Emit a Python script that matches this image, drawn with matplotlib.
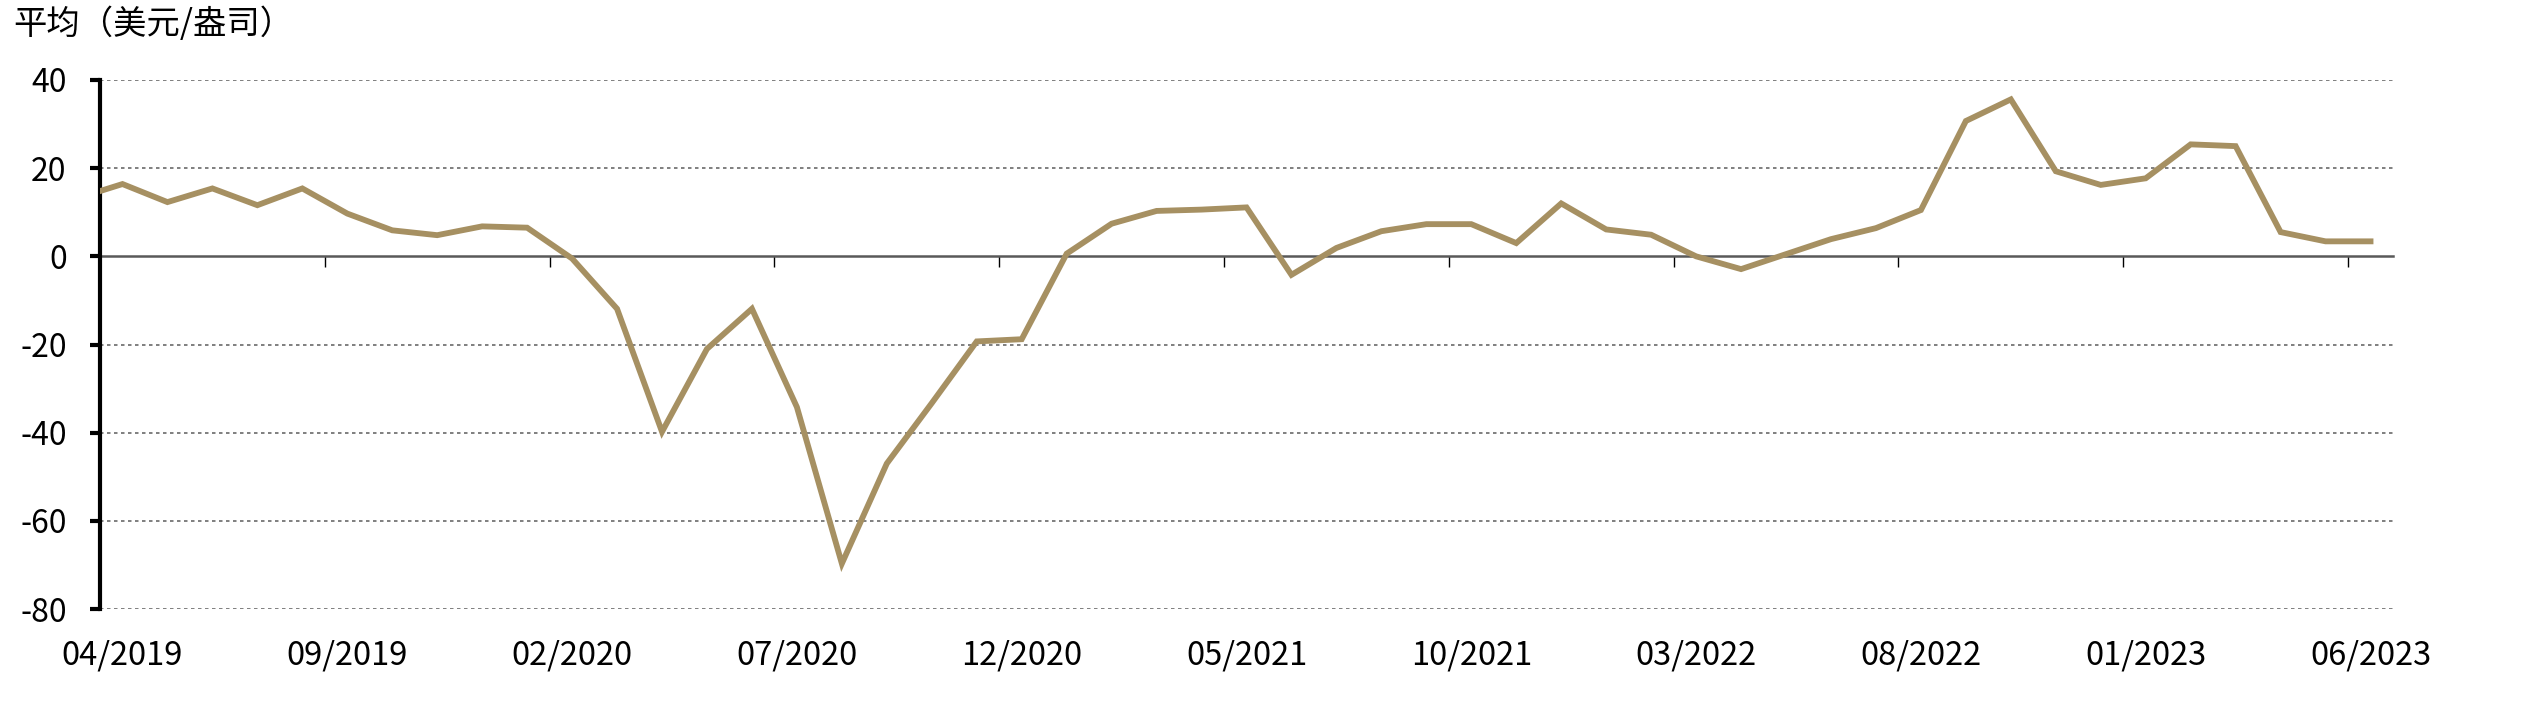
import numpy as np
import pandas as pd
import matplotlib
matplotlib.use('Agg')
import matplotlib.pyplot as plt

# monthly average spread, USD/oz (first point 03/2019 only enters from the left edge)
months = pd.period_range('2019-03', '2023-06', freq='M')
values = [
    13.2, 16.4, 12.3, 15.4, 11.6, 15.4, 9.7, 5.9, 4.8, 6.8,
    6.5, -0.5, -11.9, -39.8, -21.0, -11.9, -34.2, -69.7, -47.0, -33.3,
    -19.3, -18.8, 0.6, 7.4, 10.3, 10.6, 11.1, -4.2, 1.9, 5.7,
    7.3, 7.3, 3.0, 12.0, 6.1, 4.9, 0.0, -2.9, 0.5, 3.9,
    6.4, 10.5, 30.7, 35.6, 19.3, 16.2, 17.7, 25.4, 25.0, 5.5,
    3.4, 3.4,
]
tick_labels = ['04/2019', '09/2019', '02/2020', '07/2020', '12/2020', '05/2021',
               '10/2021', '03/2022', '08/2022', '01/2023', '06/2023']
y_ticks = [-80, -60, -40, -20, 0, 20, 40]
title = '平均（美元/盎司）'

LINE_COLOR = '#A69062'

plt.rcParams['font.family'] = ['Noto Sans CJK SC', 'DejaVu Sans']

start = pd.Period('2019-04', freq='M')
x = np.array([(m - start).n for m in months]) + 0.5
tick_pos = [(pd.Period(t[3:] + '-' + t[:2], freq='M') - start).n for t in tick_labels]

fig = plt.figure(figsize=(25.28, 7.26), dpi=100)
ax = fig.add_axes([100 / 2528, 1 - 609 / 726, (2393 - 100) / 2528, (609 - 80) / 726])

ax.plot(x, values, color=LINE_COLOR, lw=4.2, zorder=3, solid_joinstyle='miter')

ax.set_xlim(0, len(months) - 1)
ax.set_ylim(-80, 40)
ax.set_yticks(y_ticks)
ax.set_yticklabels([str(v) for v in y_ticks])

# gridlines
for v in y_ticks:
    if v != 0:
        ax.axhline(v, color='#7F7F7F', lw=1.4, ls=(0, (1.8, 1.8)), zorder=1)

# zero line carries the tick marks
ax.spines['bottom'].set_position(('data', 0))
ax.spines['bottom'].set_color('#595959')
ax.spines['bottom'].set_linewidth(1.8)
ax.spines['bottom'].set_zorder(2)
ax.set_xticks(tick_pos)
ax.set_xticklabels([])
ax.tick_params(axis='x', direction='out', length=8, width=1.0, color='black')

ax.spines['top'].set_visible(False)
ax.spines['right'].set_visible(False)
ax.spines['left'].set_linewidth(3)
ax.spines['left'].set_color('black')
ax.tick_params(axis='y', direction='out', length=7, width=3, color='black',
               labelsize=23, pad=17)

# date labels at the bottom, centred on each month
lab = ax.secondary_xaxis('bottom')
lab.set_xticks([p + 0.5 for p in tick_pos])
lab.set_xticklabels(tick_labels)
lab.tick_params(axis='x', length=0, labelsize=23.5, pad=22)
lab.spines['bottom'].set_visible(False)

fig.text(13 / 2528, 1 - 25 / 726, title, fontsize=24, ha='left', va='center')

fig.savefig('out.png', dpi=100, facecolor='white')
